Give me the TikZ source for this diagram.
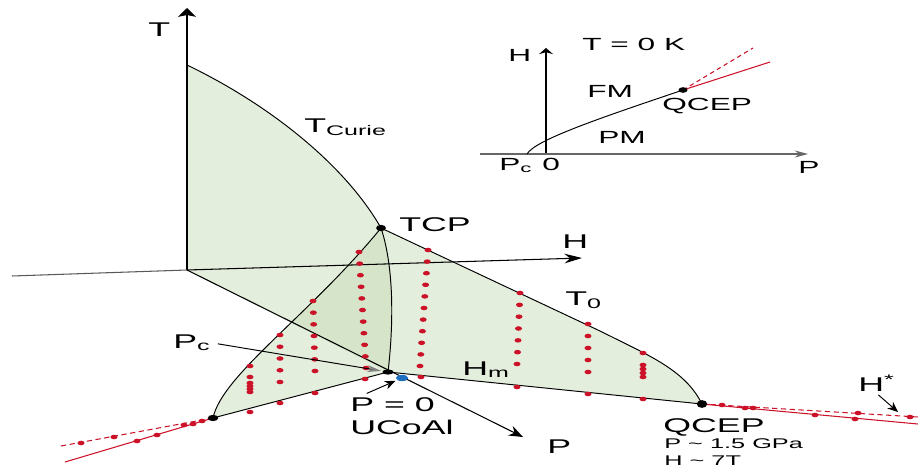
\documentclass[tikz,border=0pt]{standalone}
\usepackage{fontspec}
\setmainfont[FakeStretch=1.8]{Liberation Sans}
\usepackage{tikz}
\usetikzlibrary{arrows.meta}
\usetikzlibrary{calc}
\usetikzlibrary{shapes.geometric}
\definecolor{vermelho}{RGB}{204,18,40}
\definecolor{verde}{RGB}{196,218,178}
\definecolor{azul}{RGB}{30,110,190}
\tikzset{
  asa/.style={fill=verde, fill opacity=0.45, draw=none},
  borda/.style={draw=black, line width=0.55pt},
  eixo/.style={line width=0.6pt},
  seta/.style={-{Stealth[length=6pt, width=5pt]}, line width=0.55pt},
  rotulo/.style={font=\fontsize{11.3}{13}\selectfont, inner sep=0pt, anchor=base west},
  mini/.style={font=\fontsize{10}{12}\selectfont, inner sep=0pt, anchor=base west},
  nota/.style={font=\fontsize{8}{10}\selectfont, inner sep=0pt, anchor=base west},
  medida/.style={fill=vermelho},
  ponto/.style={fill=black},
}

\begin{document}
\begin{tikzpicture}[x=0.02cm, y=-0.02cm]
  \useasboundingbox (0,0) rectangle (918,473);
  \clip (0,0) rectangle (918,473);

  \coordinate (O) at (187,270);
  \coordinate (ttop) at (187,8);
  \coordinate (htip) at (582,258);
  \coordinate (hneg) at (12,276);
  \coordinate (ptip) at (523,437);
  \coordinate (tc0) at (187,65);
  \coordinate (tcp) at (381,228);
  \coordinate (pc) at (388,372);
  \coordinate (pcl) at (213,418);
  \coordinate (qcep) at (702,404);
  \coordinate (t0k) at (600,331);
  \coordinate (redla) at (65,462);
  \coordinate (redlb) at (61,446);
  \coordinate (redra) at (918,424);
  \coordinate (redrb) at (918,417);
  \coordinate (hstarpt) at (898,412);

  % superficies
  \path[asa] (O) -- (tc0) .. controls (270,105) and (345,165) .. (tcp)
    .. controls (395,270) and (393,330) .. (pc) -- cycle;
  \path[asa] (tcp) .. controls (310,315) and (222,375) .. (pcl) -- (pc)
    .. controls (393,330) and (395,270) .. (tcp);
  \path[asa] (tcp) -- (t0k) .. controls (650,356) and (685,370) .. (qcep) -- (pc)
    .. controls (393,330) and (395,270) .. (tcp);

  % eixos
  \draw[eixo, -{Stealth[length=5pt, width=10pt, inset=1pt]}] (O) -- (ttop);
  \draw[eixo, gray!70!black] (O) -- (hneg);
  \draw[eixo, -{Stealth[length=10pt, width=5.5pt]}] (O) -- (htip);
  \draw[eixo, -{Stealth[length=8pt, width=6pt]}] (O) -- (ptip);

  % linhas de transicao
  \draw[borda] (tc0) .. controls (270,105) and (345,165) .. (tcp);
  \draw[borda] (tcp) .. controls (395,270) and (393,330) .. (pc);
  \draw[borda] (tcp) .. controls (310,315) and (222,375) .. (pcl) -- (pc) -- (qcep);
  \draw[borda] (tcp) -- (t0k) .. controls (650,356) and (685,370) .. (qcep);
  \draw[vermelho, line width=0.6pt] (pcl) -- (redla);
  \draw[vermelho, line width=0.6pt, dash pattern=on 3pt off 2pt] (pcl) -- (redlb);
  \draw[vermelho, line width=0.6pt] (qcep) -- (redra);
  \draw[vermelho, line width=0.6pt, dash pattern=on 3pt off 2pt] (qcep) -- (redrb);

  % medidas
  \foreach \xa/\ya/\xb/\yb/\n in {280/335/280/382/4, 313/301/315/371/6,
      359/252/366/368/10, 428/250/420/366/10, 520/293/517/364/6, 588/324/588/372/4}
    \foreach \i in {0,...,\n}
      \fill[medida] ($(\xa,\ya)!\i/\n!(\xb,\yb)$) ellipse [x radius=2pt, y radius=1.3pt];
  \foreach \x/\y in {250/366, 250/377, 250/383, 250/386, 250/389, 250/392,
      643/353, 643/365, 643/369, 643/373, 643/377,
      250/412, 280/403, 315/393, 365/379, 421/377, 517/387, 588/394, 643/399,
      137/441, 157/435, 202/421, 81/443, 114/437, 184/425, 193/424,
      722/405, 745/408, 753/408, 858/413, 910/417, 815/415, 855/419}
    \fill[medida] (\x,\y) ellipse [x radius=2pt, y radius=1.3pt];

  \fill[ponto] (tcp) ellipse [x radius=2.8pt, y radius=1.8pt];
  \fill[ponto] (pc) ellipse [x radius=3.2pt, y radius=1.5pt];
  \fill[ponto] (pcl) ellipse [x radius=3pt, y radius=1.8pt];
  \fill[ponto] (qcep) ellipse [x radius=3pt, y radius=2.2pt];
  \node[ellipse, fill=azul, inner sep=0pt, minimum width=7pt, minimum height=3.6pt] (ucoalpt) at (402,378) {};

  % rotulos
  \node[rotulo] (tlab) at (148,37) {T};
  \node[rotulo] (tcurie) at (304,132) {T\textsubscript{Curie}};
  \node[rotulo] (tcplab) at (399,231) {TCP};
  \node[rotulo] (hlab) at (562,248) {H};
  \node[rotulo] (t0lab) at (565,305) {T\textsubscript{0}};
  \node[rotulo] (hmlab) at (462,375) {H\textsubscript{m}};
  \node[rotulo] (plab) at (547,453) {P};
  \node[rotulo] (pclab) at (173,348) {P\textsubscript{c}};
  \node[rotulo, align=left, font=\fontsize{11.3}{13}\selectfont] (ucoallab) at (350,434) {P = 0\\UCoAl};
  \node[rotulo] (qceplab) at (663,432) {QCEP};
  \node[nota] (pval) at (664,448) {P \textasciitilde{} 1.5 GPa};
  \node[nota] (hval) at (664,465) {H \textasciitilde{} 7T};
  \node[rotulo] (hstarlab) at (858,391) {H\textsuperscript{*}};

  \draw[line width=0.55pt, -{Stealth[length=8pt, width=4pt, color=gray]}, shorten <=4pt, shorten >=4pt] (pclab.east) -- (pc);
  \draw[seta, shorten >=1pt] ([xshift=9.5pt, yshift=2pt]ucoallab.north west) -- (ucoalpt);
  \draw[seta] ([xshift=1pt, yshift=-2pt]hstarlab.south) -- (hstarpt);

  % quadro T = 0 K
  \coordinate (io) at (546,154);
  \coordinate (ihtop) at (546,48);
  \coordinate (ipl) at (480,154);
  \coordinate (ipr) at (808,154);
  \coordinate (ipc) at (527,154);
  \coordinate (iqcep) at (683,90);
  \coordinate (ireda) at (770,62);
  \coordinate (iredb) at (753,48);
  \draw[eixo, -{Stealth[length=3.5pt, width=8pt]}] (io) -- (ihtop);
  \draw[eixo, gray!80!black, -{Stealth[length=7.5pt, width=4pt]}] (ipl) -- (ipr);
  \draw[borda] (ipc) .. controls (535,140) and (600,118) .. (iqcep);
  \draw[vermelho, line width=0.6pt] (iqcep) -- (ireda);
  \draw[vermelho, line width=0.6pt, dash pattern=on 2.5pt off 2pt] (iqcep) -- (iredb);
  \fill[ponto] (iqcep) ellipse [x radius=2.6pt, y radius=1.6pt];
  \node[mini] (tzero) at (582,51) {T = 0 K};
  \node[mini] (ihlab) at (508,62) {H};
  \node[mini] (fmlab) at (587,97) {FM};
  \node[mini] (iqceplab) at (662,111) {QCEP};
  \node[mini] (pmlab) at (598,143) {PM};
  \node[mini] (ipclab) at (499,170) {P\textsubscript{c}};
  \node[mini] (izero) at (542,170) {0};
  \node[mini] (iplab) at (798,173) {P};
\end{tikzpicture}
\end{document}
